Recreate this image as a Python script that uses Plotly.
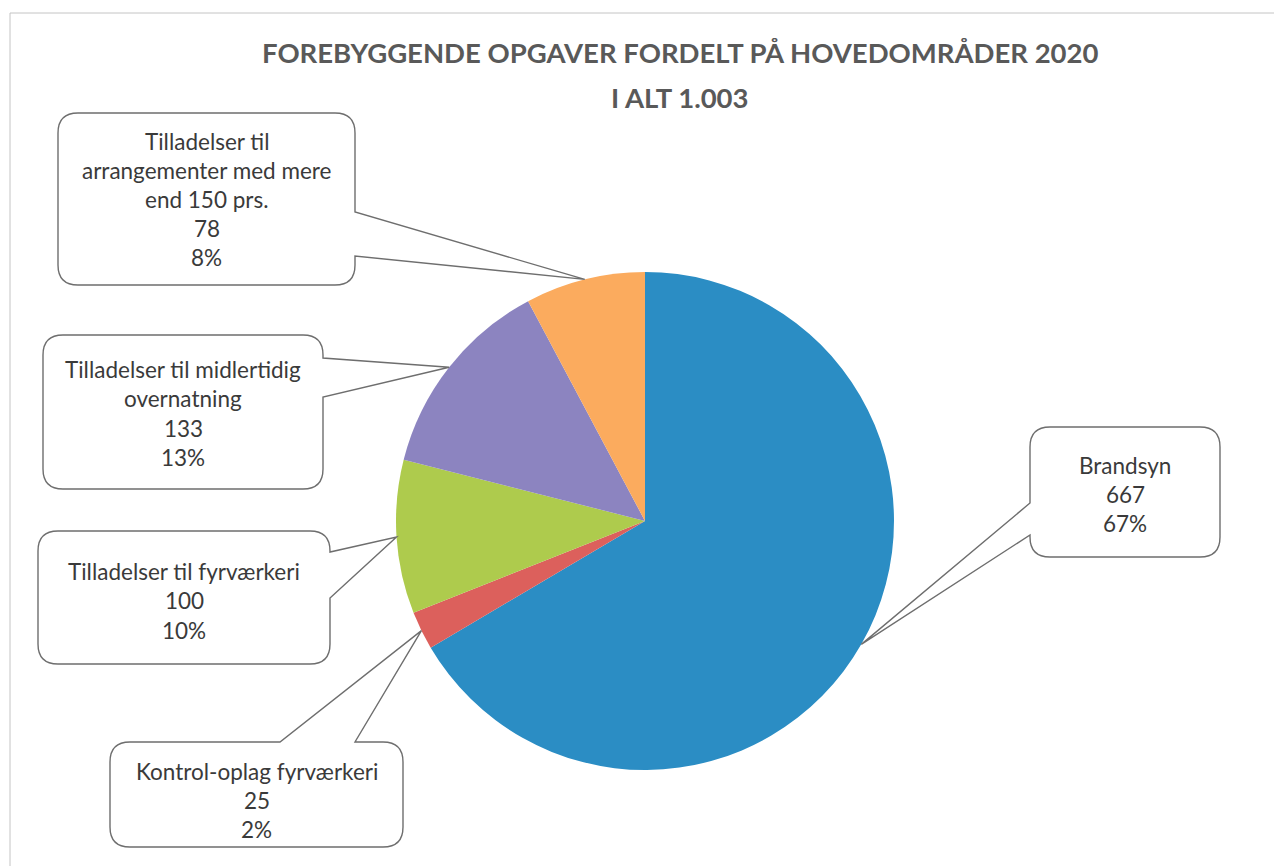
import math
import plotly.graph_objects as go

W, H = 1282, 866

# ---- data ----
labels = [
    "Brandsyn",
    "Kontrol-oplag fyrværkeri",
    "Tilladelser til fyrværkeri",
    "Tilladelser til midlertidig<br>overnatning",
    "Tilladelser til<br>arrangementer med mere<br>end 150 prs.",
]
values = [667, 25, 100, 133, 78]
colors = ["#2b8dc4", "#dc605c", "#aecb4d", "#8c84c0", "#fbab5e"]
title_lines = ["FOREBYGGENDE OPGAVER FORDELT PÅ HOVEDOMRÅDER 2020", "I ALT 1.003"]

# ---- layout helpers (screen pixel -> paper; page body has an 8px offset) ----
OFF = 8

def px(x):
    return (x - OFF) / W

def py(y):
    return 1 - (y - OFF) / H

cx, cy, R = 645, 521, 249

# callout boxes: (x0, y0, x1, y1), pointer side, pointer base (a, b), first text line y, line step
boxes = [
    ((1030, 427, 1220, 557), "left", (503, 535), 465, 29),
    ((110, 742, 403, 847), "top", (280, 355), 771, 29),
    ((38, 531, 330, 664), "right", (552, 598), 571, 29.5),
    ((43, 335, 323, 489), "right", (358, 397), 369, 29.5),
    ((58, 113, 355, 285), "right", (212, 256), 141, 29.2),
]

total = sum(values)

fig = go.Figure()
fig.add_trace(go.Pie(
    values=values,
    labels=[l.replace("<br>", " ") for l in labels],
    marker=dict(colors=colors, line=dict(width=0)),
    sort=False,
    direction="clockwise",
    rotation=0,
    textinfo="none",
    hoverinfo="label+value+percent",
    showlegend=False,
    domain=dict(x=[px(cx - R), px(cx + R)], y=[py(cy + R), py(cy - R)]),
))

shapes = []
annotations = []

def bubble_path(box, side, base, tip, r=20):
    x0, y0, x1, y1 = box
    a, b = base
    tx, ty = tip
    p = []
    p.append(f"M{px(x0 + r)},{py(y0)}")
    if side == "top":
        p.append(f"L{px(a)},{py(y0)} L{px(tx)},{py(ty)} L{px(b)},{py(y0)}")
    p.append(f"L{px(x1 - r)},{py(y0)} Q{px(x1)},{py(y0)} {px(x1)},{py(y0 + r)}")
    if side == "right":
        p.append(f"L{px(x1)},{py(a)} L{px(tx)},{py(ty)} L{px(x1)},{py(b)}")
    p.append(f"L{px(x1)},{py(y1 - r)} Q{px(x1)},{py(y1)} {px(x1 - r)},{py(y1)}")
    p.append(f"L{px(x0 + r)},{py(y1)} Q{px(x0)},{py(y1)} {px(x0)},{py(y1 - r)}")
    if side == "left":
        p.append(f"L{px(x0)},{py(b)} L{px(tx)},{py(ty)} L{px(x0)},{py(a)}")
    p.append(f"L{px(x0)},{py(y0 + r)} Q{px(x0)},{py(y0)} {px(x0 + r)},{py(y0)} Z")
    return " ".join(p)

cum = 0.0
for i, v in enumerate(values):
    mid = (cum + v / 2) / total * 2 * math.pi
    cum += v
    tip = (cx + R * math.sin(mid), cy - R * math.cos(mid))
    box, side, base, ty0, step = boxes[i]
    shapes.append(dict(
        type="path", xref="paper", yref="paper",
        path=bubble_path(box, side, base, tip),
        line=dict(color="#6e6e6e", width=1.4),
        fillcolor="rgba(255,255,255,0)",
        layer="above",
    ))
    lines = labels[i].split("<br>") + [f"{v}", f"{round(v / total * 100)}%"]
    bx = (box[0] + box[2]) / 2
    for j, t in enumerate(lines):
        annotations.append(dict(
            x=px(bx), y=py(ty0 + j * step), xref="paper", yref="paper",
            text=t, showarrow=False, xanchor="center", yanchor="middle",
            font=dict(family="Lato, sans-serif", size=22.5, color="#3a3a3a"),
        ))

# outer frame
shapes.append(dict(type="rect", xref="paper", yref="paper",
                   x0=px(10), y0=py(13), x1=px(1300), y1=py(900),
                   line=dict(color="#c4c4c4", width=1), layer="below"))

for k, (t, yy) in enumerate(zip(title_lines, [53, 97])):
    annotations.append(dict(
        x=px(680), y=py(yy), xref="paper", yref="paper",
        text=f"<b>{t}</b>", showarrow=False, xanchor="center", yanchor="middle",
        font=dict(family="Lato, sans-serif", size=27.5, color="#595959"),
    ))

fig.update_layout(
    width=W, height=H,
    margin=dict(l=0, r=0, t=0, b=0),
    paper_bgcolor="white",
    plot_bgcolor="white",
    shapes=shapes,
    annotations=annotations,
    showlegend=False,
)

fig.write_html("out.html")
